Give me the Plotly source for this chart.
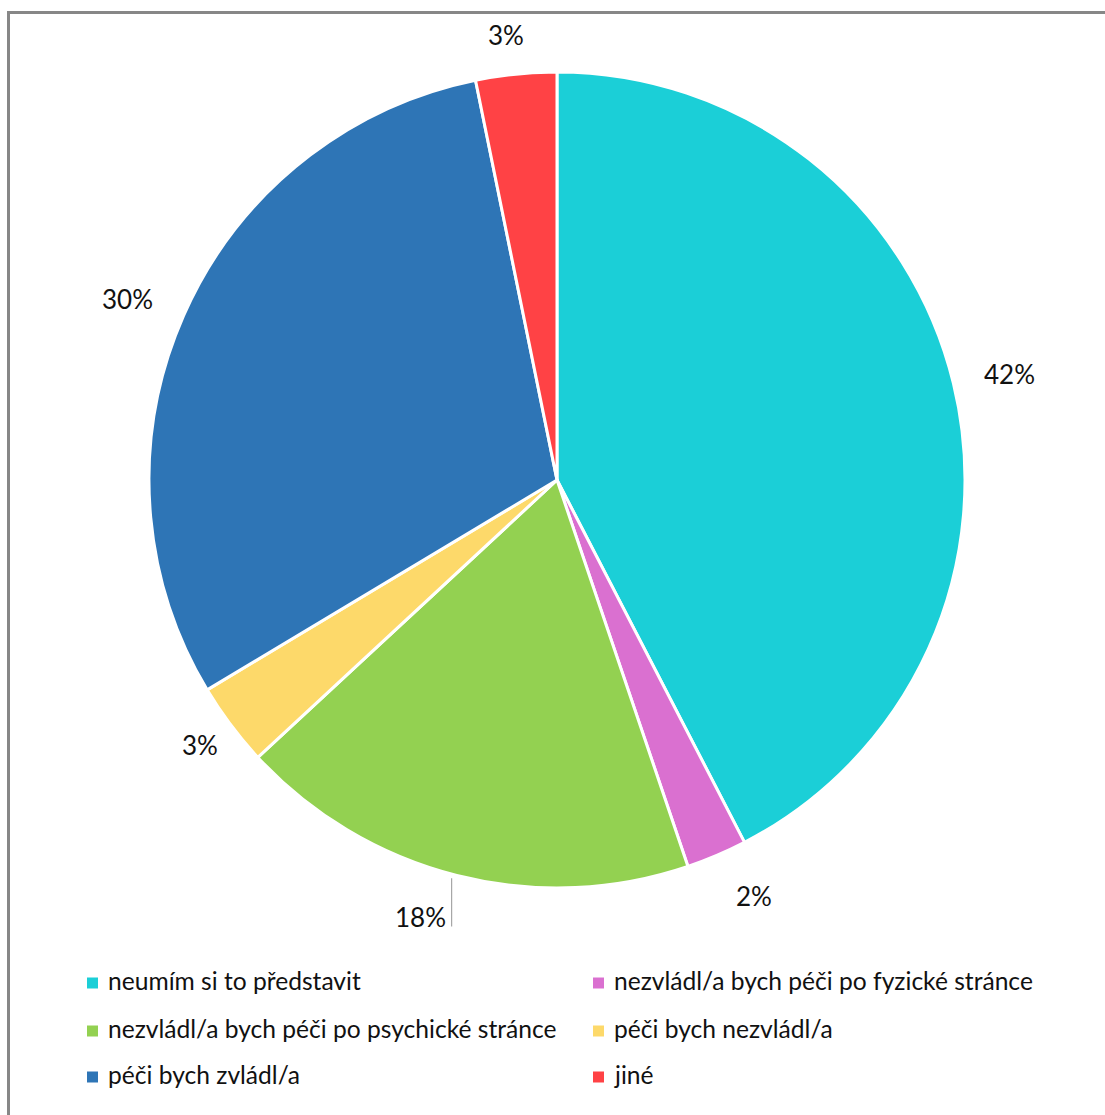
import math
import plotly.graph_objects as go

# Survey answers (share of respondents, %)
categories = [
    "neumím si to představit",
    "nezvládl/a bych péči po fyzické stránce",
    "nezvládl/a bych péči po psychické stránce",
    "péči bych nezvládl/a",
    "péči bych zvládl/a",
    "jiné",
]
values = [42.4, 2.4, 18.3, 3.3, 30.4, 3.2]
colors = ["#1BCFD7", "#DA70D0", "#93D151", "#FDD96A", "#2E75B6", "#FF4245"]
# small per-label nudges (px) applied after the radial placement
label_nudge = [(4, 3), (20, -1), (0, -3), (7, -9), (-6, 5), (-6, 2)]

W, H = 1105, 1115
CX, CY, R = 557, 480, 408          # pie centre / radius in pixels
FONT = "Lato"
FS_LEG = 24.6
FS_LAB = 26


def px(x):
    return x / W


def py(y):
    return 1 - y / H


fig = go.Figure(
    go.Pie(
        labels=categories,
        values=values,
        marker=dict(colors=colors, line=dict(color="white", width=3)),
        sort=False,
        direction="clockwise",
        rotation=0,
        textinfo="none",
        hoverinfo="label+percent",
        showlegend=False,
        domain=dict(x=[px(CX - R), px(CX + R)], y=[py(CY + R), py(CY - R)]),
    )
)

annotations = []
shapes = []

# percentage labels placed outside each slice along its mid-angle
total = sum(values)
cum = 0.0
for i, v in enumerate(values):
    theta = 2 * math.pi * (cum + v / 2) / total
    cum += v
    label = f"{round(v / total * 100)}%"
    s, c = math.sin(theta), math.cos(theta)
    hw = 0.32 * FS_LEG * len(label)
    hh = 12
    r = R + 28 + abs(s) * hw + abs(c) * hh
    lx = CX + r * s + label_nudge[i][0]
    ly = CY - r * c + label_nudge[i][1]
    xshift = 0
    if i == 2:
        # shifted aside with a leader line back to the slice
        xshift = -25
        line_x = lx + xshift + 31
        y0 = CY + math.sqrt(R ** 2 - (line_x - CX) ** 2) + 4
        shapes.append(dict(type="line", xref="paper", yref="paper",
                           x0=px(line_x), x1=px(line_x),
                           y0=py(y0), y1=py(ly + 10),
                           line=dict(color="#A6A6A6", width=1.2)))
    annotations.append(dict(
        x=px(lx + xshift), y=py(ly), xref="paper", yref="paper",
        text=label, showarrow=False, xanchor="center", yanchor="middle",
        font=dict(family=FONT, size=FS_LAB, color="#111111"),
    ))

# legend: two columns, three rows
col_x = [87, 593]
row_y = [983, 1031, 1077]
SQ = 11
for i, (name, col) in enumerate(zip(categories, colors)):
    x0 = col_x[i % 2]
    yc = row_y[i // 2]
    shapes.append(dict(type="rect", xref="paper", yref="paper",
                       x0=px(x0), x1=px(x0 + SQ),
                       y0=py(yc + SQ / 2), y1=py(yc - SQ / 2),
                       fillcolor=col, line=dict(width=0)))
    annotations.append(dict(
        x=px(x0 + SQ + 8), y=py(yc - 3), xref="paper", yref="paper",
        text=name, showarrow=False, xanchor="left", yanchor="middle",
        font=dict(family=FONT, size=FS_LEG, color="#111111"),
    ))

# chart frame (top and left edges)
shapes.append(dict(type="line", xref="paper", yref="paper",
                   x0=px(8), x1=px(W + 5), y0=py(12.5), y1=py(12.5),
                   line=dict(color="#878787", width=3)))
shapes.append(dict(type="line", xref="paper", yref="paper",
                   x0=px(8.5), x1=px(8.5), y0=py(11), y1=py(H + 5),
                   line=dict(color="#878787", width=3)))

fig.update_layout(
    width=W, height=H,
    margin=dict(l=0, r=0, t=0, b=0),
    paper_bgcolor="white",
    plot_bgcolor="white",
    annotations=annotations,
    shapes=shapes,
    showlegend=False,
)

fig.write_html("out.html")
